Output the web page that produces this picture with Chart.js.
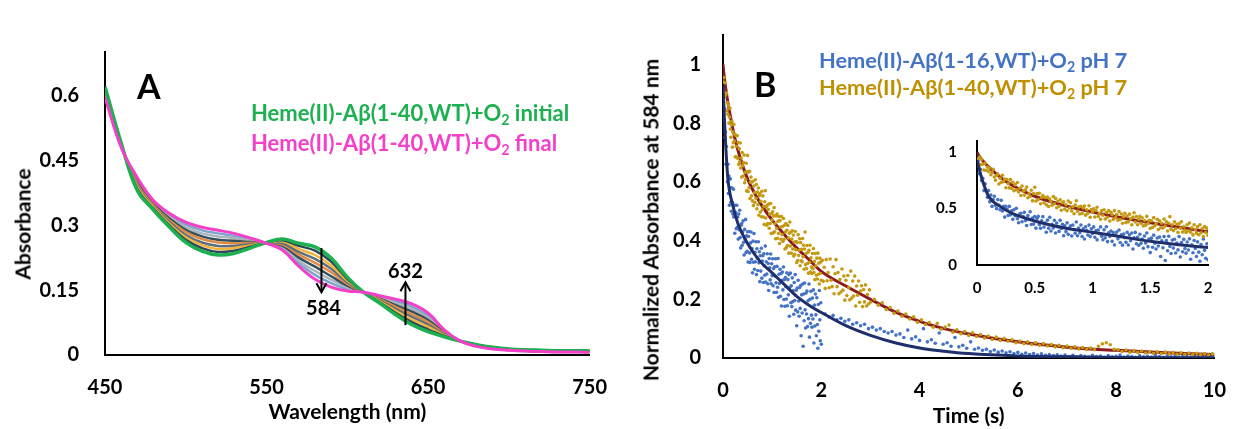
<!DOCTYPE html>
<html>
<head>
<meta charset="utf-8">
<script src="https://cdn.jsdelivr.net/npm/chart.js@4.4.1/dist/chart.umd.min.js"></script>
<style>
  body { margin: 0; background: #fff; font-family: Lato, sans-serif; }
  #wrap { position: relative; width: 1239px; height: 429px; overflow: hidden; }
  .box { position: absolute; }
  .txt { position: absolute; font-weight: 700; white-space: nowrap; line-height: 1; }
  .txt sub { font-size: 0.65em; vertical-align: -0.25em; line-height: 0; }
  .rot { transform: translate(-50%, -50%) rotate(-90deg); }
</style>
</head>
<body>
<div id="wrap">
  <div class="box" style="left:0;top:0;width:620px;height:429px"><canvas id="chartA"></canvas></div>
  <div class="box" style="left:620px;top:0;width:619px;height:429px"><canvas id="chartB"></canvas></div>
  <div class="box" style="left:930px;top:120px;width:290px;height:190px"><canvas id="chartInset"></canvas></div>

  <div class="txt" style="left:137px;top:69px;font-size:34px">A</div>
  <div class="txt" style="left:754px;top:67px;font-size:34px">B</div>
  <div class="txt" style="left:251px;top:102px;font-size:22px;color:#1DB050">Heme(II)-Aβ(1-40,WT)+O<sub>2</sub> initial</div>
  <div class="txt" style="left:251px;top:132px;font-size:22px;color:#F440C8">Heme(II)-Aβ(1-40,WT)+O<sub>2</sub> final</div>
  <div class="txt" style="left:819px;top:49px;font-size:21.8px;color:#4472C4">Heme(II)-Aβ(1-16,WT)+O<sub>2</sub> pH 7</div>
  <div class="txt" style="left:819px;top:76px;font-size:21.8px;color:#BF9000">Heme(II)-Aβ(1-40,WT)+O<sub>2</sub> pH 7</div>
  <div class="txt rot" style="left:22px;top:224px;font-size:21px">Absorbance</div>
  <div class="txt rot" style="left:650px;top:220px;font-size:21px">Normalized Absorbance at 584 nm</div>
</div>
<script>
// ---- Panel A: spectra ----
const wavelengths = [450,460,470,480,490,500,510,520,530,540,550,560,570,580,590,600,610,620,630,640,650,660,670,680,690,700,710,720,730,740,750];
const initialAbs = [0.62,0.49,0.38,0.335,0.295,0.26,0.24,0.231,0.235,0.247,0.26,0.268,0.258,0.25,0.224,0.18,0.145,0.12,0.093,0.07,0.054,0.042,0.032,0.024,0.018,0.014,0.012,0.011,0.01,0.01,0.01];
const finalAbs = [0.595,0.48,0.41,0.357,0.327,0.307,0.295,0.288,0.281,0.27,0.258,0.242,0.205,0.175,0.157,0.148,0.145,0.137,0.129,0.118,0.097,0.058,0.032,0.02,0.014,0.011,0.009,0.008,0.007,0.007,0.006];
const midAbs1 = [0.617,0.489,0.384,0.338,0.299,0.266,0.247,0.238,0.241,0.25,0.26,0.265,0.252,0.241,0.216,0.176,0.145,0.122,0.097,0.076,0.059,0.044,0.032,0.024,0.018,0.014,0.012,0.011,0.01,0.01,0.01];
const midAbs2 = [0.614,0.488,0.388,0.341,0.303,0.272,0.254,0.245,0.247,0.253,0.26,0.262,0.245,0.231,0.207,0.172,0.145,0.124,0.102,0.082,0.065,0.046,0.032,0.023,0.017,0.013,0.011,0.01,0.009,0.009,0.009];
const midAbs3 = [0.611,0.486,0.391,0.343,0.307,0.277,0.26,0.252,0.252,0.256,0.259,0.258,0.238,0.222,0.199,0.168,0.145,0.126,0.106,0.088,0.07,0.048,0.032,0.023,0.017,0.013,0.011,0.01,0.009,0.009,0.009];
const midAbs4 = [0.608,0.485,0.395,0.346,0.311,0.284,0.268,0.26,0.258,0.259,0.259,0.255,0.232,0.213,0.191,0.164,0.145,0.129,0.111,0.094,0.076,0.05,0.032,0.022,0.016,0.013,0.011,0.01,0.009,0.009,0.008];
const midAbs5 = [0.605,0.484,0.399,0.349,0.315,0.289,0.274,0.266,0.264,0.261,0.259,0.252,0.225,0.204,0.182,0.16,0.145,0.131,0.115,0.1,0.081,0.052,0.032,0.022,0.016,0.012,0.01,0.009,0.008,0.008,0.008];
const midAbs6 = [0.601,0.483,0.403,0.352,0.319,0.295,0.281,0.274,0.27,0.264,0.259,0.249,0.218,0.194,0.174,0.156,0.145,0.133,0.12,0.106,0.086,0.054,0.032,0.021,0.015,0.012,0.01,0.009,0.008,0.008,0.007];
const midAbs7 = [0.598,0.481,0.406,0.354,0.323,0.301,0.288,0.281,0.275,0.267,0.258,0.245,0.212,0.185,0.166,0.152,0.145,0.135,0.124,0.112,0.091,0.056,0.032,0.02,0.015,0.011,0.009,0.008,0.007,0.007,0.007];
const arrowNm = [584, 636];
const arrowFrom = [0.247, 0.069];
const arrowTo = [0.145, 0.168];
const arrowText = ['584', '632'];

// ---- Panel B: kinetics at 584 nm ----
const blueAbsEarly = [ // t = 0.01 .. 2.00 s, every 0.01 s
  0.92,0.81,0.85,0.75,0.77,0.66,0.72,0.66,0.6,0.66,
  0.56,0.62,0.52,0.58,0.61,0.53,0.5,0.58,0.53,0.49,
  0.575,0.48,0.52,0.425,0.52,0.495,0.44,0.52,0.445,0.48,
  0.405,0.49,0.437,0.503,0.41,0.375,0.452,0.458,0.384,0.43,
  0.467,0.394,0.351,0.438,0.405,0.472,0.359,0.416,0.363,0.43,
  0.327,0.414,0.431,0.358,0.325,0.392,0.429,0.336,0.373,0.29,
  0.398,0.326,0.424,0.302,0.36,0.328,0.396,0.284,0.372,0.34,
  0.298,0.396,0.324,0.362,0.26,0.348,0.296,0.374,0.272,0.33,
  0.348,0.257,0.355,0.314,0.282,0.381,0.259,0.328,0.286,0.355,
  0.253,0.322,0.23,0.339,0.307,0.266,0.354,0.253,0.321,0.28,
  0.338,0.246,0.305,0.223,0.311,0.279,0.338,0.256,0.224,0.312,
  0.241,0.339,0.207,0.285,0.254,0.302,0.21,0.288,0.177,0.265,
  0.293,0.232,0.31,0.199,0.267,0.176,0.274,0.243,0.201,0.29,
  0.178,0.267,0.215,0.284,0.142,0.241,0.289,0.188,0.246,0.175,
  0.273,0.192,0.23,0.149,0.257,0.196,0.284,0.163,0.231,0.11,
  0.238,0.157,0.265,0.194,0.142,0.24,0.169,0.247,0.076,0.215,
  0.153,0.252,0.04,0.218,0.127,0.255,0.164,0.102,0.221,0.15,
  0.228,0.107,0.195,0.134,0.252,0.071,0.2,0.118,0.227,0.146,
  0.105,0.204,0.133,0.232,0.051,0.18,0.109,0.218,0.147,0.076,
  0.205,0.114,0.033,0.182,0.091,0.23,0.13,0.059,0.188,0.047
];
const blueAbsLate = [ // t = 2.08 .. 10.00 s, every 0.08 s
  0.15,0.14,0.145,0.13,0.135,0.125,0.13,0.115,0.12,0.11,
  0.115,0.1,0.105,0.095,0.1,0.09,0.085,0.09,0.078,0.082,
  0.07,0.095,0.065,0.072,0.06,0.1,0.055,0.062,0.05,0.085,
  0.047,0.052,0.04,0.07,0.038,0.043,0.033,0.055,0.03,0.034,
  0.026,0.03,0.022,0.027,0.02,0.024,0.018,0.021,0.015,0.019,
  0.013,0.017,0.012,0.015,0.01,0.014,0.009,0.012,0.008,0.011,
  0.007,0.01,0.005,0.009,0.004,0.008,0.006,0.003,0.009,0.005,
  0.007,0.002,0.008,0.004,0.006,0.01,0.003,0.007,0.005,0.002,
  0.008,0.004,0.006,0.003,0.009,0.005,0.002,0.007,0.004,0.006,
  0.003,0.008,0.005,0.002,0.006,0.004,0.007,0.003,0.005,0.004
];
const goldAbsEarly = [ // t = 0.01 .. 2.00 s, every 0.01 s
  0.94,0.955,0.89,0.937,0.895,0.843,0.902,0.841,0.87,0.83,
  0.86,0.8,0.82,0.85,0.78,0.752,0.794,0.806,0.718,0.77,
  0.733,0.796,0.739,0.762,0.685,0.758,0.721,0.684,0.757,0.68,
  0.734,0.659,0.713,0.668,0.732,0.647,0.681,0.616,0.7,0.655,
  0.62,0.666,0.691,0.597,0.632,0.608,0.663,0.569,0.634,0.69,
  0.567,0.633,0.58,0.636,0.543,0.599,0.616,0.552,0.599,0.535,
  0.602,0.519,0.586,0.563,0.53,0.607,0.544,0.591,0.508,0.565,
  0.522,0.579,0.486,0.553,0.56,0.497,0.534,0.481,0.568,0.505,
  0.552,0.48,0.517,0.455,0.532,0.57,0.477,0.515,0.452,0.52,
  0.458,0.506,0.524,0.442,0.49,0.458,0.526,0.424,0.492,0.47,
  0.498,0.426,0.484,0.512,0.43,0.458,0.406,0.484,0.442,0.49,
  0.408,0.466,0.424,0.482,0.39,0.468,0.446,0.404,0.482,0.42,
  0.448,0.397,0.475,0.404,0.452,0.371,0.429,0.458,0.376,0.435,
  0.383,0.451,0.409,0.357,0.425,0.463,0.381,0.429,0.357,0.405,
  0.433,0.371,0.419,0.347,0.395,0.353,0.431,0.369,0.397,0.325,
  0.393,0.332,0.42,0.349,0.367,0.406,0.314,0.393,0.331,0.37,
  0.328,0.407,0.345,0.384,0.302,0.371,0.429,0.318,0.356,0.305,
  0.383,0.322,0.36,0.289,0.367,0.326,0.384,0.293,0.341,0.31,
  0.288,0.356,0.304,0.373,0.291,0.329,0.267,0.356,0.314,0.282,
  0.34,0.269,0.357,0.285,0.323,0.252,0.34,0.288,0.327,0.265
];
const goldAbsMid = [ // t = 2.02 .. 3.00 s, every 0.02 s
  0.333,0.261,0.309,0.237,0.335,0.263,0.291,0.239,0.337,0.265,
  0.243,0.311,0.219,0.287,0.335,0.243,0.291,0.219,0.267,0.225,
  0.303,0.231,0.279,0.197,0.265,0.213,0.281,0.24,0.198,0.296,
  0.204,0.262,0.211,0.279,0.177,0.245,0.214,0.262,0.19,0.228,
  0.246,0.175,0.233,0.191,0.249,0.177,0.216,0.184,0.232,0.19
];
const goldAbsLate = [ // t = 3.08 .. 9.96 s, every 0.08 s
  0.2,0.18,0.188,0.165,0.172,0.152,0.16,0.142,0.15,0.133,
  0.14,0.122,0.13,0.114,0.121,0.105,0.118,0.098,0.105,0.112,
  0.088,0.096,0.083,0.09,0.077,0.086,0.073,0.08,0.068,0.075,
  0.063,0.071,0.06,0.067,0.057,0.062,0.052,0.058,0.049,0.055,
  0.046,0.052,0.043,0.049,0.041,0.046,0.038,0.043,0.035,0.041,
  0.033,0.038,0.031,0.036,0.029,0.034,0.028,0.04,0.048,0.052,
  0.045,0.03,0.028,0.022,0.027,0.02,0.025,0.019,0.024,0.017,
  0.022,0.016,0.021,0.015,0.02,0.014,0.019,0.013,0.018,0.013,
  0.017,0.012,0.016,0.011,0.015,0.01,0.014
];
const fitTimes = [0,0.02,0.05,0.1,0.2,0.3,0.5,0.75,1,1.25,1.5,1.75,2,2.5,3,3.5,4,4.5,5,6,7,8,9,10];
const blueFit = [0.93,0.85,0.74,0.61,0.52,0.46,0.39,0.33,0.29,0.25,0.21,0.18,0.155,0.11,0.077,0.052,0.034,0.023,0.015,0.007,0.004,0.002,0.001,0.001];
const goldFit = [1.0,0.965,0.925,0.87,0.78,0.71,0.61,0.53,0.47,0.42,0.375,0.335,0.295,0.245,0.2,0.157,0.125,0.1,0.082,0.055,0.037,0.026,0.018,0.012];

const blueSegments = [
  { start: 0.01, step: 0.01, values: blueAbsEarly },
  { start: 2.08, step: 0.08, values: blueAbsLate }
];
const goldSegments = [
  { start: 0.01, step: 0.01, values: goldAbsEarly },
  { start: 2.02, step: 0.02, values: goldAbsMid },
  { start: 3.08, step: 0.08, values: goldAbsLate }
];

Chart.defaults.font.family = 'Lato';
Chart.defaults.font.weight = 'bold';
Chart.defaults.color = '#000';
Chart.defaults.animation = false;

function pair(xs, ys) {
  return xs.map((x, i) => ({ x: x, y: ys[i] }));
}
function segPoints(segments) {
  const pts = [];
  segments.forEach(seg => {
    seg.values.forEach((v, i) => pts.push({ x: +(seg.start + i * seg.step).toFixed(3), y: v }));
  });
  return pts;
}
function fmt(v) { return String(+v.toFixed(2)); }

function axisBase(min, max, step, size, pad) {
  return {
    type: 'linear', min: min, max: max,
    grid: { display: false },
    border: { display: true, color: '#000', width: 2 },
    ticks: { stepSize: step, includeBounds: false, font: { size: size, weight: 'bold' }, padding: pad, callback: fmt }
  };
}

// arrows with labels in panel A
const arrowPlugin = {
  id: 'arrows',
  afterDatasetsDraw(chart) {
    const { ctx, scales: { x, y } } = chart;
    ctx.save();
    ctx.strokeStyle = '#000';
    ctx.fillStyle = '#000';
    ctx.lineWidth = 2;
    ctx.font = 'bold 20px Lato';
    ctx.textAlign = 'center';
    ctx.textBaseline = 'middle';
    arrowNm.forEach((nm, i) => {
      const px = x.getPixelForValue(nm);
      const y0 = y.getPixelForValue(arrowFrom[i]);
      const y1 = y.getPixelForValue(arrowTo[i]);
      const dir = y1 > y0 ? 1 : -1;
      ctx.beginPath();
      ctx.moveTo(px, y0);
      ctx.lineTo(px, y1);
      ctx.stroke();
      ctx.beginPath();
      ctx.moveTo(px - 5, y1 - dir * 9);
      ctx.lineTo(px, y1);
      ctx.lineTo(px + 5, y1 - dir * 9);
      ctx.stroke();
      ctx.fillText(arrowText[i], px + (dir > 0 ? 2 : 0), y1 + (dir > 0 ? 16 : -11));
    });
    ctx.restore();
  }
};

const midSets = [midAbs1, midAbs2, midAbs3, midAbs4, midAbs5, midAbs6, midAbs7];
const midColors = ['#2f4858', '#f2b53a', '#5d7080', '#e08a45', '#34505e', '#a9b4bd', '#7ea3cc'];

function drawAll() {
  const specSets = [
    { data: pair(wavelengths, finalAbs), borderColor: '#F440C8', borderWidth: 3 },
    { data: pair(wavelengths, initialAbs), borderColor: '#1DB050', borderWidth: 3.5 }
  ];
  midSets.forEach((arr, i) => {
    specSets.push({ data: pair(wavelengths, arr), borderColor: midColors[i], borderWidth: 2.5 });
  });

  const xA = axisBase(450, 750, 100, 20, 13);
  xA.title = { display: true, text: 'Wavelength (nm)', font: { size: 21, weight: 'bold' }, padding: { top: 0, bottom: 4 } };
  xA.afterFit = s => { s.height = 74; };
  const yA = axisBase(0, 0.7, 0.15, 20, 18);
  yA.afterFit = s => { s.width = 105; };

  new Chart(document.getElementById('chartA'), {
    type: 'line',
    data: { datasets: specSets },
    options: {
      responsive: true, maintainAspectRatio: false,
      layout: { padding: { left: 0, right: 27, top: 52, bottom: 0 } },
      elements: { point: { radius: 0 }, line: { tension: 0.4 } },
      plugins: { legend: { display: false }, tooltip: { enabled: false } },
      scales: { x: xA, y: yA }
    },
    plugins: [arrowPlugin]
  });

  // first dataset is drawn on top: navy fit over blue dots, gold dots over red fit
  function kineticSets(radius) {
    return [
      { type: 'line', data: pair(fitTimes, blueFit), borderColor: '#1F2F6B', borderWidth: 3, pointRadius: 0, cubicInterpolationMode: 'monotone' },
      { type: 'scatter', data: segPoints(goldSegments), backgroundColor: '#C49A12', borderWidth: 0, pointRadius: radius },
      { type: 'line', data: pair(fitTimes, goldFit), borderColor: '#8E1B1B', borderWidth: 3, pointRadius: 0, cubicInterpolationMode: 'monotone' },
      { type: 'scatter', data: segPoints(blueSegments), backgroundColor: '#4472C4', borderWidth: 0, pointRadius: radius }
    ];
  }

  const xB = axisBase(0, 10, 2, 20, 13);
  xB.title = { display: true, text: 'Time (s)', font: { size: 21, weight: 'bold' }, padding: { top: 0, bottom: 0 } };
  xB.afterFit = s => { s.height = 71; };
  const yB = axisBase(0, 1.1, 0.2, 20, 14);
  yB.afterFit = s => { s.width = 103; };

  new Chart(document.getElementById('chartB'), {
    type: 'scatter',
    data: { datasets: kineticSets(1.8) },
    options: {
      responsive: true, maintainAspectRatio: false,
      layout: { padding: { left: 0, right: 16, top: 35, bottom: 0 } },
      plugins: { legend: { display: false }, tooltip: { enabled: false } },
      scales: { x: xB, y: yB }
    }
  });

  const xI = axisBase(0, 2, 0.5, 15, 6);
  xI.afterFit = s => { s.height = 45; };
  const yI = axisBase(0, 1.1, 0.5, 15, 12);
  yI.afterFit = s => { s.width = 47; };

  new Chart(document.getElementById('chartInset'), {
    type: 'scatter',
    data: { datasets: kineticSets(1.8) },
    options: {
      responsive: true, maintainAspectRatio: false,
      layout: { padding: { left: 0, right: 12, top: 19, bottom: 0 } },
      plugins: { legend: { display: false }, tooltip: { enabled: false } },
      scales: { x: xI, y: yI }
    }
  });
}

document.fonts.load('bold 20px Lato').then(drawAll, drawAll);
</script>
</body>
</html>
